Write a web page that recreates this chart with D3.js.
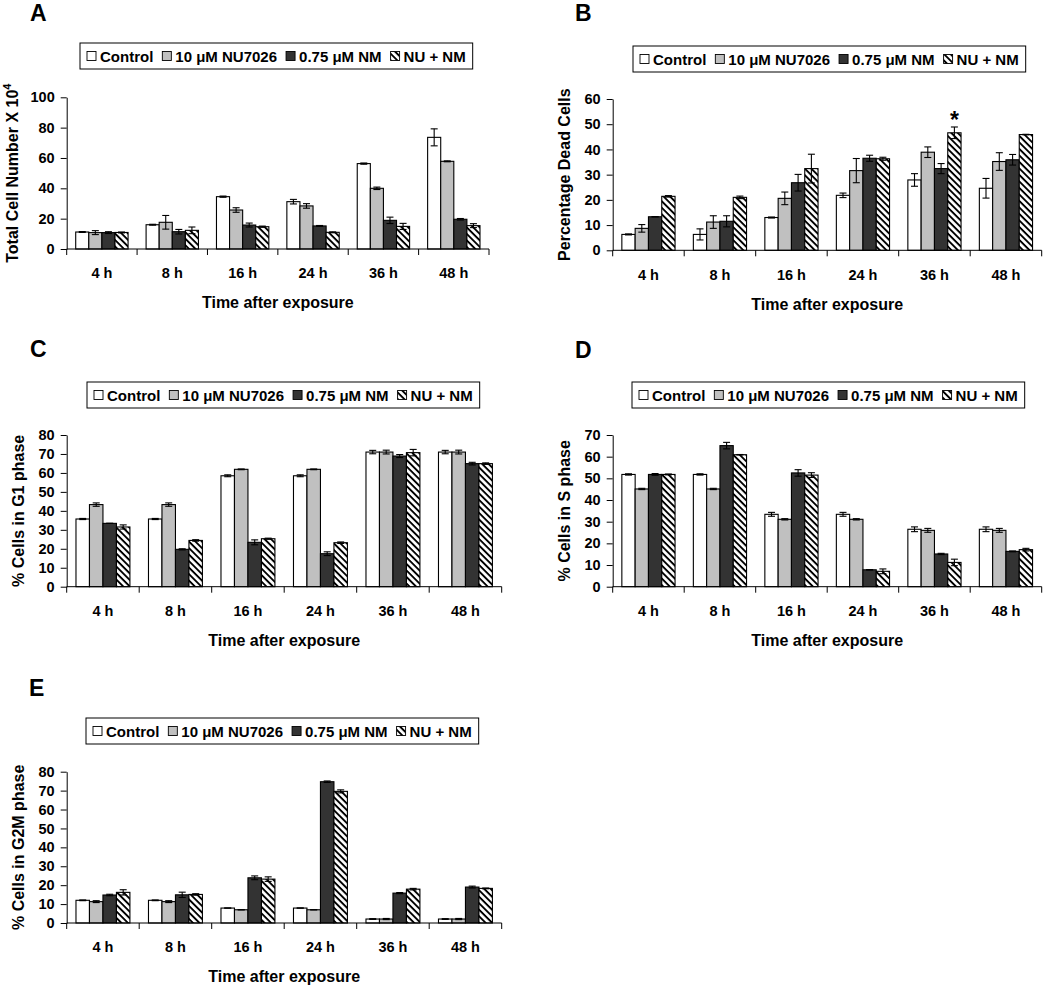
<!DOCTYPE html>
<html>
<head>
<meta charset="utf-8">
<script src="https://cdn.jsdelivr.net/npm/d3@7/dist/d3.min.js"></script>
<style>
  html, body { margin: 0; padding: 0; background: #fff; }
  svg { display: block; }
  text { font-family: "Liberation Sans", Arial, Helvetica, sans-serif; font-weight: bold; fill: #000; }
</style>
</head>
<body>
<svg id="chart" width="1050" height="986"></svg>
<script>
// ---------------- DATA ----------------
const categories = ["4 h", "8 h", "16 h", "24 h", "36 h", "48 h"];
const seriesNames = ["Control", "10 μM NU7026", "0.75 μM NM", "NU + NM"];

// Panel A: Total Cell Number X 10^4
const ctrlA = [11.2, 16.0, 34.5, 31.2, 56.3, 73.6];
const nuA   = [10.8, 17.6, 25.7, 28.4, 40.0, 57.8];
const nmA   = [10.8, 11.4, 15.8, 15.2, 18.9, 19.6];
const nunmA = [10.9, 12.3, 14.7, 11.0, 14.9, 15.4];
const ctrlAErr = [0.3, 0.3, 0.4, 1.5, 0.4, 5.6];
const nuAErr   = [1.3, 4.5, 1.5, 1.5, 0.8, 0.3];
const nmAErr   = [0.6, 1.5, 1.3, 0.3, 2.1, 0.5];
const nunmAErr = [0.3, 2.2, 0.4, 0.3, 2.0, 1.3];
const ticksA = [0, 20, 40, 60, 80, 100];

// Panel B: Percentage Dead Cells
const ctrlB = [6.3, 6.3, 13.0, 21.8, 27.9, 24.6];
const nuB   = [8.7, 11.2, 20.6, 31.6, 38.9, 35.2];
const nmB   = [13.3, 11.5, 26.8, 36.5, 32.4, 35.9];
const nunmB = [21.4, 21.0, 32.4, 36.3, 46.6, 45.9];
const ctrlBErr = [0.2, 2.2, 0.2, 0.9, 2.5, 3.9];
const nuBErr   = [1.5, 2.5, 2.5, 4.8, 2.1, 3.5];
const nmBErr   = [0.0, 2.2, 3.3, 1.2, 2.0, 2.1];
const nunmBErr = [0.3, 0.5, 5.7, 0.6, 2.3, 0.1];
const ticksB = [0, 10, 20, 30, 40, 50, 60];

// Panel C: % Cells in G1 phase
const ctrlC = [35.7, 35.7, 58.5, 58.5, 71.0, 71.0];
const nuC   = [43.3, 43.3, 61.9, 61.9, 71.0, 71.0];
const nmC   = [33.4, 19.7, 23.4, 17.4, 68.9, 64.9];
const nunmC = [31.5, 24.4, 25.3, 23.2, 70.7, 64.9];
const ctrlCErr = [0.3, 0.3, 0.5, 0.5, 0.9, 0.9];
const nuCErr   = [0.9, 0.9, 0.2, 0.2, 1.0, 1.0];
const nmCErr   = [0.0, 0.3, 1.3, 1.0, 0.8, 0.7];
const nunmCErr = [1.1, 0.4, 0.3, 0.4, 1.7, 0.4];
const ticksC = [0, 10, 20, 30, 40, 50, 60, 70, 80];

// Panel D: % Cells in S phase
const ctrlD = [51.8, 51.8, 33.4, 33.4, 26.5, 26.5];
const nuD   = [45.1, 45.1, 31.1, 31.1, 26.0, 26.0];
const nmD   = [51.8, 65.1, 52.5, 7.8, 15.1, 16.3];
const nunmD = [51.8, 60.9, 51.5, 7.1, 11.2, 17.1];
const ctrlDErr = [0.3, 0.3, 0.9, 0.9, 1.1, 1.1];
const nuDErr   = [0.3, 0.3, 0.3, 0.3, 0.9, 0.9];
const nmDErr   = [0.4, 1.5, 1.5, 0.1, 0.3, 0.2];
const nunmDErr = [0.2, 0.1, 1.1, 1.1, 1.5, 0.6];
const ticksD = [0, 10, 20, 30, 40, 50, 60, 70];

// Panel E: % Cells in G2M phase
const ctrlE = [12.0, 12.0, 7.9, 7.9, 2.1, 2.1];
const nuE   = [11.3, 11.3, 7.0, 7.0, 2.1, 2.1];
const nmE   = [14.8, 14.9, 23.9, 74.7, 15.8, 19.0];
const nunmE = [16.2, 15.1, 23.2, 69.6, 17.9, 18.3];
const ctrlEErr = [0.2, 0.2, 0.0, 0.0, 0.2, 0.2];
const nuEErr   = [0.5, 0.5, 0.0, 0.0, 0.3, 0.3];
const nmEErr   = [0.4, 1.4, 1.0, 0.4, 0.3, 0.5];
const nunmEErr = [1.4, 0.4, 1.2, 0.8, 0.4, 0.2];
const ticksE = [0, 10, 20, 30, 40, 50, 60, 70, 80];

const xTitle = "Time after exposure";

// ---------------- LAYOUT ----------------
const svg = d3.select("#chart");
const defs = svg.append("defs");
const pat = defs.append("pattern")
  .attr("id", "hatch").attr("patternUnits", "userSpaceOnUse")
  .attr("width", 4.6).attr("height", 4.6)
  .attr("patternTransform", "rotate(45)");
pat.append("rect").attr("width", 4.6).attr("height", 4.6).attr("fill", "#fff");
pat.append("rect").attr("x", 0).attr("y", 0).attr("width", 4.6).attr("height", 1.9).attr("fill", "#000");

const fills = ["#ffffff", "#c0c0c0", "#333333", "url(#hatch)"];

const panels = [
  { letter: "A", vals: [ctrlA, nuA, nmA, nunmA], errs: [ctrlAErr, nuAErr, nmAErr, nunmAErr], ticks: ticksA,
    yTitle: "Total Cell Number X 10", sup: "4",
    x0: 66.7, x1: 489, yTop: 97.3, yBot: 249, legX: 80, legY: 43, letX: 30, letY: 21,
    tickLabY: 278, titleY: 308, yTitleX: 18 },
  { letter: "B", vals: [ctrlB, nuB, nmB, nunmB], errs: [ctrlBErr, nuBErr, nmBErr, nunmBErr], ticks: ticksB,
    yTitle: "Percentage Dead Cells",
    x0: 612.7, x1: 1041.7, yTop: 99, yBot: 250.3, legX: 633, legY: 46, letX: 575, letY: 21,
    tickLabY: 280, titleY: 310, yTitleX: 570, star: { series: 3, cat: 4 } },
  { letter: "C", vals: [ctrlC, nuC, nmC, nunmC], errs: [ctrlCErr, nuCErr, nmCErr, nunmCErr], ticks: ticksC,
    yTitle: "% Cells in G1 phase",
    x0: 66.7, x1: 501.7, yTop: 435, yBot: 586.7, legX: 87, legY: 382, letX: 30, letY: 357,
    tickLabY: 616, titleY: 646, yTitleX: 24 },
  { letter: "D", vals: [ctrlD, nuD, nmD, nunmD], errs: [ctrlDErr, nuDErr, nmDErr, nunmDErr], ticks: ticksD,
    yTitle: "% Cells in S phase",
    x0: 612.7, x1: 1041.7, yTop: 435, yBot: 586.7, legX: 632, legY: 382, letX: 575, letY: 358,
    tickLabY: 616, titleY: 646, yTitleX: 570 },
  { letter: "E", vals: [ctrlE, nuE, nmE, nunmE], errs: [ctrlEErr, nuEErr, nmEErr, nunmEErr], ticks: ticksE,
    yTitle: "% Cells in G2M phase",
    x0: 66.7, x1: 501.7, yTop: 771.7, yBot: 923, legX: 86, legY: 718, letX: 29, letY: 696,
    tickLabY: 952, titleY: 982, yTitleX: 24 }
];

const pIn = 0.256;

panels.forEach(p => {
  const g = svg.append("g");
  const maxT = p.ticks[p.ticks.length - 1];
  const y = d3.scaleLinear().domain([0, maxT]).range([p.yBot, p.yTop]);
  const x = d3.scaleBand().domain(categories).range([p.x0, p.x1])
    .paddingInner(pIn).paddingOuter(pIn / 2);
  const xs = d3.scaleBand().domain(d3.range(4)).range([0, x.bandwidth()]).padding(0);
  const step = x.step();

  // panel letter
  g.append("text").attr("x", p.letX).attr("y", p.letY)
    .style("font-size", "23px").text(p.letter);

  // bars
  p.vals.forEach((vals, s) => {
    g.append("g").selectAll("rect").data(vals).join("rect")
      .attr("x", (d, i) => x(categories[i]) + xs(s))
      .attr("y", d => y(d))
      .attr("width", xs.bandwidth())
      .attr("height", d => y(0) - y(d))
      .attr("fill", fills[s])
      .attr("stroke", "#000").attr("stroke-width", 1.1);
  });

  // error bars
  p.vals.forEach((vals, s) => {
    const eg = g.append("g").attr("stroke", "#000").attr("stroke-width", 1.1);
    vals.forEach((v, i) => {
      const e = p.errs[s][i];
      const cx = x(categories[i]) + xs(s) + xs.bandwidth() / 2;
      eg.append("line").attr("x1", cx).attr("x2", cx).attr("y1", y(v - e)).attr("y2", y(v + e));
      eg.append("line").attr("x1", cx - 3.5).attr("x2", cx + 3.5).attr("y1", y(v + e)).attr("y2", y(v + e));
      eg.append("line").attr("x1", cx - 3.5).attr("x2", cx + 3.5).attr("y1", y(v - e)).attr("y2", y(v - e));
    });
  });

  // y axis
  const yAx = g.append("g").attr("transform", `translate(${p.x0},0)`)
    .call(d3.axisLeft(y).tickValues(p.ticks).tickSize(6).tickSizeOuter(0).tickPadding(6));
  yAx.selectAll("path,line").attr("stroke", "#000").attr("stroke-width", 1);
  yAx.selectAll("text").style("font-size", "14.5px")
    .style("font-family", "'Liberation Sans', Arial, sans-serif").style("font-weight", "bold").attr("fill", "#000");

  // x axis line & boundary ticks
  const xg = g.append("g").attr("stroke", "#000").attr("stroke-width", 1);
  xg.append("line").attr("x1", p.x0).attr("x2", p.x1).attr("y1", p.yBot).attr("y2", p.yBot);
  const bounds = categories.map(c => x(c) - step * pIn / 2).concat([p.x1]);
  xg.selectAll("line.tk").data(bounds).join("line").attr("class", "tk")
    .attr("x1", d => d).attr("x2", d => d).attr("y1", p.yBot).attr("y2", p.yBot + 6);

  // x tick labels
  g.append("g").selectAll("text").data(categories).join("text")
    .attr("x", d => x(d) + x.bandwidth() / 2).attr("y", p.tickLabY)
    .attr("text-anchor", "middle").style("font-size", "14.5px").text(d => d);

  // x title
  g.append("text").attr("x", (p.x0 + p.x1) / 2).attr("y", p.titleY)
    .attr("text-anchor", "middle").style("font-size", "16px").text(xTitle);

  // y title
  const yt = g.append("text")
    .attr("transform", `translate(${p.yTitleX},${(p.yTop + p.yBot) / 2}) rotate(-90)`)
    .attr("text-anchor", "middle").style("font-size", "16px");
  yt.append("tspan").text(p.yTitle);
  if (p.sup) {
    yt.append("tspan").attr("dy", -7).style("font-size", "11px").text(p.sup);
  }

  // asterisk
  if (p.star) {
    const s = p.star.series, i = p.star.cat;
    const v = p.vals[s][i] + p.errs[s][i];
    g.append("text").attr("x", x(categories[i]) + xs(s) + xs.bandwidth() / 2)
      .attr("y", y(v) + 1).attr("text-anchor", "middle")
      .style("font-size", "23px").text("*");
  }

  // legend
  const lg = g.append("g");
  const boxH = 26;
  const box = lg.append("rect").attr("x", p.legX).attr("y", p.legY).attr("height", boxH)
    .attr("fill", "#fff").attr("stroke", "#000").attr("stroke-width", 1);
  let cx = p.legX + 7;
  seriesNames.forEach((name, s) => {
    lg.append("rect").attr("x", cx).attr("y", p.legY + boxH / 2 - 4.5)
      .attr("width", 9).attr("height", 9)
      .attr("fill", fills[s]).attr("stroke", "#000").attr("stroke-width", 0.9);
    cx += 9 + 4;
    const t = lg.append("text").attr("x", cx).attr("y", p.legY + boxH / 2 + 5.5)
      .style("font-size", "15px").text(name);
    cx += t.node().getComputedTextLength();
    if (s < seriesNames.length - 1) cx += 9;
  });
  box.attr("width", cx + 7 - p.legX);
});
</script>
</body>
</html>
